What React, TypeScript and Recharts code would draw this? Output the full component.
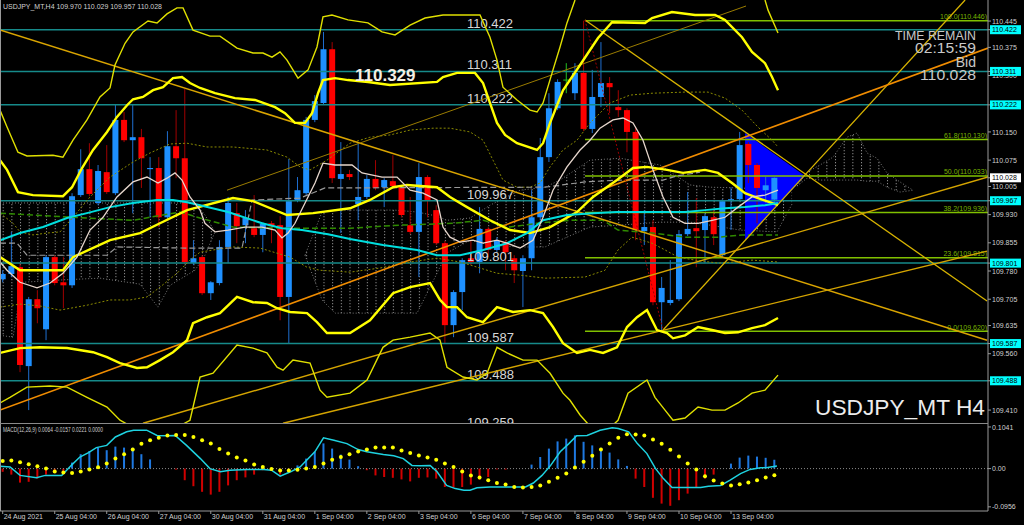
import React from "react";
import { ComposedChart, Bar, Line, Area, XAxis, YAxis, ReferenceLine } from "recharts";

// ---------- candle data (USDJPY H4) ----------
const opens = [109.758,109.772,109.790,109.527,109.705,109.625,109.817,109.750,109.742,109.982,110.051,109.961,110.043,109.987,110.182,110.128,110.136,110.051,110.054,109.923,110.112,110.080,109.801,109.817,109.721,109.748,109.844,109.934,109.902,109.894,109.876,109.907,109.902,109.711,109.969,109.987,110.182,110.227,110.370,110.025,110.038,109.958,109.977,110.025,110.003,110.019,110.003,109.902,109.884,110.030,109.942,109.854,109.636,109.724,109.814,109.804,109.892,109.836,109.857,109.814,109.780,109.814,109.923,110.083,110.213,110.288,110.253,110.307,110.158,110.243,110.280,110.216,110.208,110.150,109.886,109.897,109.697,109.695,109.705,109.878,109.894,109.889,109.923,109.822,109.966,109.971,110.118,110.062,109.995,109.970];
const highs = [109.782,109.884,109.801,109.711,109.729,109.822,109.822,109.817,109.987,110.104,110.120,110.062,110.115,110.224,110.203,110.224,110.158,110.083,110.083,110.152,110.208,110.264,109.862,109.822,109.753,109.862,109.977,109.961,109.942,109.982,109.910,109.913,109.926,110.078,110.030,110.190,110.248,110.416,110.389,110.123,110.049,110.120,110.035,110.075,110.027,110.088,110.008,109.977,110.067,110.035,109.955,109.860,109.729,109.814,109.862,109.950,109.897,109.870,109.862,109.822,109.822,109.995,110.134,110.253,110.290,110.333,110.333,110.446,110.315,110.389,110.296,110.261,110.213,110.163,109.942,109.915,109.764,109.809,109.889,109.990,109.974,109.934,109.942,109.971,110.003,110.150,110.123,110.067,110.030,110.029];
const lows = [109.750,109.764,109.511,109.410,109.641,109.596,109.742,109.681,109.735,109.977,109.979,109.955,109.985,109.982,110.123,109.934,110.001,109.923,109.897,109.918,110.027,109.798,109.796,109.716,109.703,109.742,109.801,109.854,109.854,109.870,109.830,109.854,109.649,109.588,109.963,109.982,110.176,110.222,110.014,109.881,110.022,109.915,109.971,109.995,109.950,110.001,109.923,109.878,109.764,109.923,109.849,109.588,109.604,109.676,109.796,109.774,109.817,109.830,109.782,109.748,109.684,109.782,109.915,110.070,110.208,110.253,110.235,110.152,110.147,110.216,110.200,110.190,110.096,109.862,109.849,109.689,109.620,109.689,109.700,109.873,109.790,109.801,109.849,109.817,109.889,109.966,110.014,109.907,109.961,109.957];
const closes = [109.772,109.793,109.530,109.705,109.681,109.817,109.748,109.742,109.979,110.051,109.985,110.046,109.990,110.182,110.128,110.136,110.080,110.054,109.923,110.112,110.080,109.804,109.814,109.721,109.750,109.844,109.961,109.899,109.921,109.876,109.905,109.899,109.711,109.966,109.995,110.182,110.232,110.370,110.027,110.038,110.030,109.977,110.025,110.001,110.022,110.006,109.929,109.884,110.030,109.969,109.854,109.636,109.724,109.809,109.804,109.892,109.836,109.860,109.830,109.782,109.814,109.923,110.083,110.213,110.283,110.288,110.307,110.158,110.243,110.280,110.269,110.208,110.150,109.889,109.897,109.697,109.735,109.703,109.878,109.892,109.886,109.926,109.878,109.966,109.971,110.115,110.062,110.001,110.008,110.028];

// ---------- axis labels ----------
const dateTickIdx = [0,6,12,18,24,30,36,42,48,54,60,66,72,78,84];
const dateLabels = ["24 Aug 2021","25 Aug 04:00","26 Aug 04:00","27 Aug 04:00","30 Aug 04:00","31 Aug 04:00","1 Sep 04:00","2 Sep 04:00","3 Sep 04:00","6 Sep 04:00","7 Sep 04:00","8 Sep 04:00","9 Sep 04:00","10 Sep 04:00","13 Sep 04:00"];
const priceTicks = [110.445,110.375,110.300,110.150,110.075,110.005,109.930,109.855,109.780,109.705,109.635,109.560,109.410];
const hLevels = [110.422,110.311,110.222,109.967,109.801,109.587,109.488];
const bidPrice = 110.028;
const macdTicks = [0.1041, 0, -0.0956];

// ---------- fibonacci ----------
const fibStartIdx = 67.16;
const fibLevels = [110.446,110.130,110.033,109.936,109.815,109.620];
const fibLabels = ["100.0(110.446)","61.8(110.130)","50.0(110.033)","38.2(109.936)","23.6(109.815)","0.0(109.620)"];

// ---------- indicator lines [index, price] ----------
const bbUpper: [number, number][] = [[-0.31,110.075],[0.5,110.049],[1.76,109.990],[3.49,109.982],[6.95,109.979],[8.0,110.003],[9.15,110.054],[10.42,110.102],[12.03,110.150],[13.18,110.190],[14.34,110.221],[15.03,110.237],[16.18,110.243],[17.34,110.261],[18.49,110.269],[19.64,110.293],[20.68,110.296],[21.6,110.280],[22.76,110.267],[24.49,110.253],[26.79,110.240],[29.1,110.235],[31.41,110.216],[32.56,110.200],[33.71,110.174],[34.87,110.174],[35.68,110.200],[36.37,110.253],[36.94,110.288],[38.33,110.293],[39.83,110.288],[42.13,110.283],[44.67,110.275],[50.09,110.283],[50.78,110.296],[52.4,110.307],[54.47,110.307],[55.4,110.280],[57.01,110.174],[57.94,110.142],[59.32,110.120],[61.63,110.102],[62.32,110.120],[63.13,110.174],[64.62,110.261],[66.59,110.328],[67.74,110.368],[68.66,110.400],[70.28,110.442],[74.08,110.440],[74.89,110.453],[77.19,110.469],[79.85,110.461],[82.16,110.461],[83.31,110.448],[85.27,110.402],[86.42,110.363],[87.92,110.333],[88.73,110.296],[89.42,110.261]];
const bbMiddle: [number, number][] = [[-0.31,109.817],[2.0,109.782],[6.95,109.782],[8.11,109.817],[12.38,109.862],[15.84,109.881],[18.14,109.907],[21.26,109.942],[26.56,109.974],[28.87,109.966],[32.79,109.929],[35.8,109.934],[40.06,109.947],[42.36,109.969],[45.02,110.003],[46.63,110.009],[50.09,110.003],[51.59,109.977],[53.55,109.950],[56.2,109.915],[58.51,109.889],[60.82,109.881],[63.13,109.897],[66.24,109.937],[68.08,109.977],[70.85,110.022],[72.7,110.054],[74.31,110.057],[76.62,110.049],[78.47,110.041],[81.0,110.049],[82.5,110.041],[84.12,110.014],[85.62,109.987],[87.11,109.974],[89.42,109.955]];
const bbLower: [number, number][] = [[-0.31,109.562],[2.0,109.575],[4.3,109.577],[7.42,109.575],[10.42,109.564],[12.03,109.551],[13.53,109.535],[15.49,109.522],[16.64,109.524],[18.14,109.543],[19.64,109.564],[21.26,109.596],[21.95,109.641],[23.56,109.657],[25.06,109.668],[27.02,109.711],[28.87,109.697],[30.48,109.695],[31.64,109.681],[33.14,109.671],[35.1,109.668],[36.25,109.644],[37.4,109.615],[40.06,109.615],[42.36,109.649],[45.02,109.721],[46.99,109.737],[49.29,109.748],[50.44,109.703],[51.24,109.684],[52.4,109.684],[53.55,109.657],[55.4,109.644],[57.01,109.684],[58.86,109.671],[60.82,109.676],[62.32,109.668],[63.47,109.631],[64.62,109.588],[66.24,109.562],[67.74,109.570],[69.24,109.562],[70.85,109.577],[72.01,109.631],[73.16,109.657],[74.31,109.676],[75.46,109.623],[76.62,109.615],[77.31,109.601],[78.7,109.609],[80.2,109.631],[81.81,109.623],[83.31,109.615],[84.81,109.617],[86.42,109.628],[87.92,109.636],[89.42,109.655]];
const outerUpper: [number, number | null][] = [[-0.31,110.208],[0.5,110.163],[1.76,110.096],[2.8,110.086],[5.8,110.088],[6.95,110.083],[8.11,110.128],[9.72,110.182],[11.22,110.243],[12.38,110.267],[12.95,110.328],[14.11,110.386],[15.03,110.416],[16.76,110.445],[17.8,110.440],[18.95,110.464],[20.1,110.480],[20.8,110.480],[21.95,110.421],[23.91,110.405],[25.06,110.405],[27.02,110.373],[28.87,110.360],[30.02,110.360],[31.06,110.349],[31.98,110.363],[32.79,110.341],[34.06,110.293],[35.22,110.315],[36.25,110.376],[36.94,110.456],[37.98,110.461],[39.83,110.448],[42.13,110.440],[43.75,110.416],[45.25,110.408],[46.99,110.434],[48.71,110.453],[50.78,110.461],[55.05,110.461],[56.2,110.402],[57.01,110.341],[57.7,110.269],[59.32,110.235],[60.82,110.208],[61.63,110.203],[62.32,110.227],[63.47,110.315],[64.28,110.376],[65.08,110.440],[66.01,110.501],[77,null],[87.92,110.501],[88.27,110.474],[89.42,110.413]];
const outerLower: [number, number | null][] = [[-0.31,109.429],[0.84,109.444],[2.8,109.471],[5.46,109.474],[7.42,109.471],[9.72,109.444],[12.03,109.418],[13.53,109.383],[14.34,109.373],[17,null],[20.8,109.373],[21.6,109.383],[22.76,109.498],[24.26,109.508],[27.02,109.583],[28.87,109.575],[30.48,109.562],[31.64,109.524],[32.33,109.516],[33.48,109.543],[35.45,109.535],[36.6,109.463],[37.4,109.444],[40.06,109.455],[42.02,109.490],[43.86,109.577],[45.02,109.596],[46.99,109.604],[49.29,109.615],[50.44,109.596],[51.24,109.524],[53.09,109.498],[54.7,109.490],[55.86,109.508],[57.01,109.577],[58.17,109.562],[60.01,109.543],[61.63,109.543],[63.13,109.508],[64.62,109.455],[65.43,109.436],[66.59,109.397],[67.51,109.373],[69,null],[70.51,109.373],[70.97,109.383],[72.12,109.455],[74.31,109.490],[75.23,109.444],[76.39,109.410],[77.31,109.383],[78.7,109.389],[80.2,109.418],[81.81,109.410],[83.31,109.410],[84.81,109.429],[86.42,109.455],[87.92,109.463],[89.42,109.503]];
const maFast: [number, number][] = [[-0.31,109.804],[0.5,109.782],[2.0,109.750],[3.96,109.735],[5.46,109.748],[6.95,109.774],[8.57,109.817],[10.07,109.889],[11.57,109.923],[13.18,109.977],[15.03,110.017],[16.64,110.030],[17.91,110.014],[18.95,110.027],[19.87,110.041],[20.68,110.022],[21.6,109.977],[22.76,109.942],[23.33,109.907],[24.49,109.884],[25.99,109.889],[27.95,109.897],[29.91,109.897],[31.41,109.889],[32.21,109.868],[32.91,109.881],[33.71,109.907],[34.87,109.961],[36.02,110.014],[36.94,110.067],[38.33,110.062],[40.29,110.062],[41.44,110.041],[43.75,110.030],[45.48,110.030],[46.99,109.995],[48.48,109.987],[50.09,109.969],[50.78,109.897],[51.59,109.870],[52.75,109.857],[54.24,109.862],[55.4,109.854],[57.01,109.862],[58.17,109.854],[59.66,109.841],[61.16,109.862],[62.32,109.923],[63.47,109.995],[65.08,110.057],[66.59,110.102],[67.74,110.128],[68.89,110.160],[70.39,110.182],[71.55,110.187],[72.7,110.174],[73.85,110.128],[75.0,110.049],[76.16,109.977],[77.31,109.923],[78.7,109.907],[80.2,109.907],[81.81,109.915],[83.31,109.923],[84.81,109.950],[86.42,109.977],[87.92,109.982],[89.42,109.995]];
const maSlow: [number, number][] = [[-0.31,109.862],[2.0,109.881],[4.65,109.897],[7.42,109.921],[9.72,109.934],[12.38,109.950],[15.03,109.961],[17.8,109.969],[19.64,109.969],[21.26,109.963],[22.76,109.955],[25.99,109.937],[29.91,109.907],[32.21,109.894],[34.52,109.889],[37.52,109.878],[40.06,109.865],[43.86,109.849],[47.79,109.836],[50.09,109.822],[52.75,109.822],[55.4,109.836],[58.17,109.854],[60.47,109.881],[62.32,109.915],[65.08,109.929],[68.08,109.934],[70.85,109.937],[74.89,109.937],[78.7,109.937],[81.0,109.942],[83.31,109.947],[85.62,109.950],[87.92,109.955],[89.42,109.961]];
const envUpper: [number, number][] = [[-0.31,109.934],[1.19,109.907],[2.0,109.884],[3.49,109.876],[5.1,109.881],[6.61,109.884],[8.11,109.923],[10.07,109.977],[12.38,110.030],[15.03,110.070],[16.99,110.094],[19.3,110.118],[21.26,110.120],[23.56,110.110],[26.56,110.110],[30.48,110.102],[32.79,110.083],[34.29,110.057],[35.45,110.049],[37.4,110.075],[40.06,110.120],[42.36,110.136],[44.67,110.142],[46.99,110.155],[49.63,110.160],[51.59,110.160],[53.9,110.150],[55.4,110.128],[56.55,110.075],[57.7,110.022],[59.32,110.003],[60.82,110.003],[61.97,110.014],[63.13,110.057],[64.62,110.102],[66.24,110.128],[67.74,110.174],[70.05,110.227],[72.35,110.248],[74.89,110.253],[78.7,110.256],[81.35,110.256],[83.31,110.240],[85.27,110.208],[87.11,110.163],[88.73,110.128],[89.42,110.110]];
const envLower: [number, number][] = [[-0.31,109.684],[2.0,109.692],[4.3,109.687],[6.61,109.676],[9.72,109.689],[12.38,109.703],[14.68,109.703],[16.64,109.711],[18.14,109.737],[20.1,109.774],[21.6,109.809],[22.76,109.830],[24.26,109.836],[26.56,109.844],[29.68,109.841],[33.14,109.817],[35.1,109.790],[36.6,109.782],[40.06,109.777],[43.52,109.788],[46.99,109.804],[50.09,109.814],[52.75,109.804],[55.05,109.788],[57.01,109.774],[59.66,109.769],[62.55,109.761],[67.16,109.764],[69.47,109.782],[70.97,109.836],[72.58,109.870],[74.89,109.854],[76.39,109.836],[77.89,109.817],[79.85,109.809],[82.5,109.801],[84.46,109.804],[86.42,109.809],[89.42,109.804]];
const kijun: [number, number][] = [[-0.31,109.934],[9.72,109.921],[15.03,109.915],[20.45,109.937],[22.76,109.921],[26.56,109.897],[31.98,109.894],[40.06,109.894],[45.82,109.902],[51.94,109.907],[55.4,109.915],[58.51,109.897],[61.63,109.907],[65.43,109.915],[69.24,109.915],[70.97,109.889],[74.89,109.881],[78.7,109.870],[82.5,109.870],[85.27,109.876],[89.42,109.876]];
const tenkan: [number, number][] = [[-0.31,109.854],[1.65,109.854],[2.8,109.822],[12.03,109.822],[13.18,109.844],[21.26,109.841],[27.6,109.841],[28.76,109.969],[34.29,109.974],[37.17,110.001],[62.55,110.003],[67.16,110.017],[71.2,110.022],[76.16,110.022],[77.77,110.033],[80.43,110.043]];

// ---------- ichimoku cloud [index, lower, upper] ----------
const cloudA: [number, number, number][] = [[-0.31,109.609,109.961],[1.19,109.604,109.961],[2.23,109.750,109.961],[6.61,109.756,109.961],[11.22,109.761,109.961],[15.84,109.745,109.961],[17.91,109.684,109.961],[19.3,109.742,109.961],[22.18,109.782,109.961],[23.33,109.822,109.929],[24.49,109.884,109.884]];
const cloudB: [number, number, number][] = [[34.87,109.822,109.822],[36.83,109.703,109.937],[38.33,109.668,109.942],[45.25,109.668,109.942],[47.79,109.668,109.937],[50.09,109.774,109.926],[51.24,109.828,109.915],[53.9,109.862,109.921],[56.2,109.849,109.955],[59.66,109.844,109.995],[62.55,109.844,110.003],[64.28,109.862,110.022],[67.74,109.897,110.075],[71.2,109.902,110.080],[75.81,109.910,110.062],[79.27,109.910,110.009],[81.58,109.902,110.003],[85.04,109.889,110.001],[89.3,109.884,109.995],[91.04,109.958,109.990]];
const cloudC: [number, number, number][] = [[91.62,110.006,110.006],[92.77,110.027,110.043],[94.27,110.022,110.062],[95.77,110.022,110.083],[97.38,110.022,110.136],[98.53,110.022,110.147],[99.69,110.019,110.094],[100.84,110.019,110.080],[101.99,110.003,110.041],[103.49,109.990,110.017],[104.99,109.995,109.995]];

// ---------- drawn objects ----------
const triangleZone: [number, number, number][] = [[85.62,109.862,110.147],[92.54,110.033,110.033]];
const trendMain: [number, number][] = [[-0.31,110.421],[113.53,109.596]];
const trendFibDown: [number, number][] = [[67.16,110.448],[113.53,109.700]];
const trendFromLow: [number, number][] = [[76.16,109.623],[111.0,110.501]];
const trendOrange: [number, number][] = [[-0.31,109.410],[113.64,110.373]];
const trendThin: [number, number][] = [[25.87,109.995],[85.73,110.485]];
const supportP: [number, number][] = [[16.18,109.375],[113.64,110.030]];
const supportQ: [number, number][] = [[32.33,109.375],[113.53,109.833]];
const fibDiagonal: [number, number][] = [[67.16,110.448],[76.16,109.623]];

// ---------- MACD ----------
const macdHist = [-0.008,-0.015,-0.035,-0.033,-0.025,-0.015,-0.008,-0.010,0.015,0.036,0.044,0.0525,0.046,0.055,0.0525,0.052,0.036,0.023,0.001,0.001,-0.0025,-0.029,-0.044,-0.058,-0.065,-0.058,-0.042,-0.029,-0.022,-0.015,-0.004,-0.005,-0.015,-0.008,0.008,0.025,0.042,0.063,0.050,0.035,0.0225,0.006,-0.004,-0.017,-0.021,-0.023,-0.027,-0.032,-0.023,-0.022,-0.025,-0.046,-0.0475,-0.046,-0.040,-0.0275,-0.021,-0.002,-0.0025,0.001,0.001,0.010,0.029,0.050,0.068,0.075,0.083,0.067,0.058,0.052,0.040,0.023,0.0067,-0.025,-0.046,-0.073,-0.0875,-0.093,-0.079,-0.0625,-0.046,-0.025,-0.015,0.001,0.0125,0.0275,0.0325,0.030,0.027,0.0221];
const macdSignal = [0.019,0.020,0.016,0.011,0.006,0,-0.007,-0.010,-0.011,-0.0075,-0.0025,0.0033,0.0125,0.025,0.036,0.048,0.062,0.071,0.077,0.0825,0.084,0.084,0.079,0.071,0.063,0.049,0.0375,0.0275,0.020,0.010,0.004,-0.001,-0.005,-0.005,-0.003,0,0.004,0.0125,0.022,0.029,0.036,0.043,0.048,0.0525,0.053,0.0525,0.045,0.039,0.033,0.0275,0.022,0.013,0.004,-0.007,-0.017,-0.022,-0.029,-0.036,-0.040,-0.046,-0.047,-0.046,-0.042,-0.033,-0.023,-0.0125,0.0025,0.017,0.032,0.048,0.0625,0.077,0.086,0.085,0.083,0.073,0.062,0.047,0.030,0.0125,-0.0025,-0.019,-0.030,-0.0375,-0.042,-0.039,-0.035,-0.029,-0.0225,-0.0167];
const macdMain: [number, number][] = [[-0.3,0.006],[0.85,0.004],[2,-0.017],[3.9,-0.023],[4.9,-0.017],[6.8,-0.017],[8,0.010],[8.9,0.029],[9.9,0.04],[10.8,0.0525],[12,0.058],[13,0.079],[14.3,0.092],[15.1,0.096],[16.6,0.096],[17.8,0.083],[18.9,0.082],[19.9,0.083],[21.2,0.058],[22.8,0.025],[23.9,0],[25.1,-0.008],[26.2,-0.004],[28.2,-0.002],[30.1,-0.002],[31,-0.004],[32,-0.019],[33.2,-0.008],[34.3,0.004],[36,0.042],[37,0.077],[38.2,0.071],[39.7,0.0625],[41,0.0475],[42,0.042],[43.9,0.035],[45.1,0.032],[46.2,0.025],[47.2,0.008],[48.2,0.007],[49.3,0.008],[50.1,-0.008],[51.2,-0.042],[52.2,-0.05],[53.2,-0.054],[53.9,-0.054],[54.7,-0.048],[56.2,-0.046],[58.2,-0.046],[60.3,-0.046],[61.2,-0.036],[62.2,-0.017],[63.2,0.008],[64.3,0.042],[65.3,0.0625],[66.2,0.082],[67.4,0.083],[68.9,0.096],[70.3,0.102],[71,0.1],[72.2,0.092],[73.2,0.0625],[74.3,0.0375],[75.3,0],[76.2,-0.025],[77.2,-0.0475],[78.3,-0.0475],[80.5,-0.0475],[81.4,-0.044],[82.8,-0.042],[83.9,-0.029],[85.1,-0.0125],[86.2,-0.002],[87.4,0.002],[88.2,0.0025],[89.3,0.0067]];

// ---------- helpers ----------
const X_DOMAIN: [number, number] = [-0.311, 113.64];
const P_DOMAIN: [number, number] = [109.373, 110.501];
const M_DOMAIN: [number, number] = [-0.106, 0.1115];
const FONT = "'Liberation Sans', Arial, sans-serif";
const BODY_W = 6;
const HIST_W = 2;

const toPts = (arr: [number, number | null][]) => arr.map(([i, p]) => ({ i, p }));
const toRange = (arr: [number, number, number][]) => arr.map(([i, lo, hi]) => ({ i, r: [lo, hi] }));

const candleRows = opens.map((o, k) => ({ i: k, o, h: highs[k], l: lows[k], c: closes[k], hl: [lows[k], highs[k]] }));
const macdRows = macdHist.map((h, k) => ({ i: k, h, s: macdSignal[k] }));

const Candle = (props: any) => {
  const { x, y, width, height, payload } = props;
  if (!payload || x == null || y == null || isNaN(y)) return null;
  const { o, h, l, c } = payload;
  const y1 = Math.min(y, y + height);
  const y2 = Math.max(y, y + height);
  const span = h - l || 1e-9;
  const toY = (v: number) => y1 + ((h - v) / span) * (y2 - y1);
  const cx = x + (width || 0) / 2;
  const doji = o === c;
  const bull = c > o;
  const body = doji ? "#22c022" : bull ? "#1e90ff" : "#ff0000";
  const wick = doji ? "#22c022" : bull ? "#1f6fd0" : "#a00000";
  const top = toY(Math.max(o, c));
  const bot = toY(Math.min(o, c));
  return (
    <g>
      <line x1={cx} x2={cx} y1={y1} y2={y2} stroke={wick} strokeWidth={1} />
      {doji ? (
        <line x1={cx - BODY_W / 2} x2={cx + BODY_W / 2} y1={top} y2={top} stroke={body} strokeWidth={1} />
      ) : (
        <rect x={cx - BODY_W / 2} y={top} width={BODY_W} height={Math.max(1, bot - top)} fill={body} />
      )}
    </g>
  );
};

const HistBar = (props: any) => {
  const { x, y, width, height, payload } = props;
  if (!payload || x == null || y == null || isNaN(y)) return null;
  const cx = x + (width || 0) / 2;
  const y1 = Math.min(y, y + height);
  const hgt = Math.abs(height);
  if (hgt < 0.5) return null;
  return <rect x={cx - HIST_W / 2} y={y1} width={HIST_W} height={hgt} fill={payload.h >= 0 ? "#1e78e0" : "#d00000"} />;
};

const PriceTick = (props: any) => {
  const { x, y, payload } = props;
  const v = payload?.value;
  if (v == null) return null;
  const isBox = hLevels.includes(v);
  const isBid = v === bidPrice;
  if (isBox || isBid) {
    return (
      <g>
        <rect x={x - 2} y={y - 4.5} width={31} height={9} fill={isBid ? "#ffffff" : "#00ffff"} />
        <text x={x} y={y + 2.6} fontSize={7} fontFamily={FONT} fill="#000">{v.toFixed(3)}</text>
      </g>
    );
  }
  return <text x={x} y={y + 2.6} fontSize={7} fontFamily={FONT} fill="#d0d0d0">{v.toFixed(3)}</text>;
};

const MacdTick = (props: any) => {
  const { x, y, payload } = props;
  const v = payload?.value;
  if (v == null) return null;
  const label = v === 0 ? "0.00" : v.toFixed(4);
  return <text x={x} y={y + 2.6} fontSize={7} fontFamily={FONT} fill="#d0d0d0">{label}</text>;
};

const DateTick = (props: any) => {
  const { x, y, payload } = props;
  const k = dateTickIdx.indexOf(payload?.value);
  if (k < 0) return null;
  return <text x={x + 1} y={y + 5} fontSize={7} fontFamily={FONT} fill="#d0d0d0">{dateLabels[k]}</text>;
};

const LevelLabel = (props: any) => {
  const { viewBox, text } = props;
  if (!viewBox) return null;
  return (
    <text x={viewBox.x + 467} y={viewBox.y - 2} fontSize={13} fontFamily={FONT} fill="#d8d8d8">{text}</text>
  );
};

const FibLabel = (props: any) => {
  const { viewBox, text } = props;
  if (!viewBox) return null;
  return (
    <text x={viewBox.x + viewBox.width - 1} y={viewBox.y - 1.5} fontSize={7} fontFamily={FONT} fill="#78b400" textAnchor="end">{text}</text>
  );
};

const lineProps = { dot: false, activeDot: false, isAnimationActive: false, dataKey: "p", legendType: "none" as const };

export default function App() {
  return (
    <div style={{ position: "absolute", left: 0, top: 0, width: 1024, height: 525, background: "#000", overflow: "hidden" }}>
      <div style={{ position: "absolute", left: 0, top: 0 }}>
        <ComposedChart width={1024} height={424} data={candleRows} margin={{ top: 0, right: 0, left: 0, bottom: 0 }}>
          <defs>
            <pattern id="kumoHatch" patternUnits="userSpaceOnUse" x={2.7} y={0} width={8.67} height={3}>
              <line x1={0.5} x2={0.5} y1={0} y2={1.2} stroke="#8c8c8c" strokeWidth={1} />
            </pattern>
          </defs>
          <XAxis type="number" dataKey="i" domain={X_DOMAIN} hide allowDataOverflow />
          <YAxis
            orientation="right"
            width={36}
            domain={P_DOMAIN}
            allowDataOverflow
            ticks={[...priceTicks, ...hLevels, bidPrice]}
            interval={0}
            tick={<PriceTick />}
            tickSize={3}
            tickMargin={1}
            axisLine={{ stroke: "#9a9a9a" }}
            tickLine={{ stroke: "#9a9a9a" }}
          />

          <Area data={toRange(cloudA)} dataKey="r" type="linear" fill="url(#kumoHatch)" fillOpacity={1} stroke="#7a7a7a" strokeDasharray="1 2" strokeWidth={1} isAnimationActive={false} dot={false} activeDot={false} />
          <Area data={toRange(cloudB)} dataKey="r" type="linear" fill="url(#kumoHatch)" fillOpacity={1} stroke="#7a7a7a" strokeDasharray="1 2" strokeWidth={1} isAnimationActive={false} dot={false} activeDot={false} />
          <Area data={toRange(cloudC)} dataKey="r" type="linear" fill="url(#kumoHatch)" fillOpacity={1} stroke="#7a7a7a" strokeDasharray="1 2" strokeWidth={1} isAnimationActive={false} dot={false} activeDot={false} />
          <Area data={toRange(triangleZone)} dataKey="r" type="linear" fill="#0000ff" fillOpacity={1} stroke="none" isAnimationActive={false} dot={false} activeDot={false} />

          {hLevels.map((v) => (
            <ReferenceLine key={"h" + v} y={v} stroke="#168a8a" strokeWidth={1.5} label={<LevelLabel text={v.toFixed(3)} />} />
          ))}
          {fibLevels.map((v, k) => (
            <ReferenceLine key={"f" + v} segment={[{ x: fibStartIdx, y: v }, { x: X_DOMAIN[1], y: v }]} stroke="#80c000" strokeWidth={1.5} label={<FibLabel text={fibLabels[k]} />} />
          ))}

          <Line {...lineProps} data={toPts(envUpper)} stroke="#8a8a00" strokeWidth={1} strokeDasharray="2 2" />
          <Line {...lineProps} data={toPts(envLower)} stroke="#8a8a00" strokeWidth={1} strokeDasharray="2 2" />
          <Line {...lineProps} data={toPts(kijun)} stroke="#2f8a00" strokeWidth={1.5} strokeDasharray="6 3" />
          <Line {...lineProps} data={toPts(tenkan)} stroke="#9a9a9a" strokeWidth={1.2} strokeDasharray="6 3" />

          <Line {...lineProps} data={toPts(trendMain)} stroke="#d9a400" strokeWidth={1.5} />
          <Line {...lineProps} data={toPts(trendFibDown)} stroke="#d8b400" strokeWidth={1.3} />
          <Line {...lineProps} data={toPts(trendFromLow)} stroke="#d8b400" strokeWidth={1.3} />
          <Line {...lineProps} data={toPts(trendOrange)} stroke="#f08c00" strokeWidth={1.6} />
          <Line {...lineProps} data={toPts(trendThin)} stroke="#9a7c00" strokeWidth={1} />
          <Line {...lineProps} data={toPts(supportP)} stroke="#d4a400" strokeWidth={1.4} />
          <Line {...lineProps} data={toPts(supportQ)} stroke="#d4a400" strokeWidth={1.4} />
          <Line {...lineProps} data={toPts(fibDiagonal)} stroke="#a00000" strokeWidth={1} strokeDasharray="2 2" />

          <Line {...lineProps} data={toPts(outerUpper)} stroke="#e0e000" strokeWidth={1.4} connectNulls={false} />
          <Line {...lineProps} data={toPts(outerLower)} stroke="#e0e000" strokeWidth={1.4} connectNulls={false} />
          <Line {...lineProps} data={toPts(bbUpper)} stroke="#ffff00" strokeWidth={2.4} />
          <Line {...lineProps} data={toPts(bbMiddle)} stroke="#ffff00" strokeWidth={2.4} />
          <Line {...lineProps} data={toPts(bbLower)} stroke="#ffff00" strokeWidth={2.4} />
          <Line {...lineProps} data={toPts(maSlow)} stroke="#00dede" strokeWidth={2} />
          <Line {...lineProps} data={toPts(maFast)} stroke="#e6d6cc" strokeWidth={1.3} />

          <Bar dataKey="hl" barSize={6} shape={<Candle />} isAnimationActive={false} legendType="none" />
        </ComposedChart>
      </div>

      <div style={{ position: "absolute", left: 0, top: 424 }}>
        <ComposedChart width={1024} height={101} data={macdRows} margin={{ top: 0, right: 0, left: 0, bottom: 0 }}>
          <XAxis
            type="number"
            dataKey="i"
            domain={X_DOMAIN}
            allowDataOverflow
            ticks={dateTickIdx}
            interval={0}
            tick={<DateTick />}
            height={14}
            tickSize={3}
            tickMargin={0}
            axisLine={{ stroke: "#9a9a9a" }}
            tickLine={{ stroke: "#9a9a9a" }}
          />
          <YAxis
            orientation="right"
            width={36}
            domain={M_DOMAIN}
            allowDataOverflow
            ticks={macdTicks}
            interval={0}
            tick={<MacdTick />}
            tickSize={3}
            tickMargin={1}
            axisLine={{ stroke: "#9a9a9a" }}
            tickLine={{ stroke: "#9a9a9a" }}
          />
          <ReferenceLine y={0} stroke="#8a8a8a" strokeDasharray="1 2" />
          <Bar dataKey="h" barSize={2} shape={<HistBar />} isAnimationActive={false} legendType="none" />
          <Line data={macdMain.map(([i, m]) => ({ i, m }))} dataKey="m" stroke="#1ed2e0" strokeWidth={1.5} dot={false} activeDot={false} isAnimationActive={false} legendType="none" />
          <Line dataKey="s" stroke="none" dot={{ r: 2, fill: "#ffff00", stroke: "none" }} activeDot={false} isAnimationActive={false} legendType="none" />
        </ComposedChart>
      </div>

      {/* panel borders */}
      <div style={{ position: "absolute", left: 0, top: 0, width: 1, height: 511, background: "#9a9a9a" }} />
      <div style={{ position: "absolute", left: 0, top: 423, width: 988, height: 1, background: "#8a8a8a" }} />

      {/* text overlay */}
      <svg width={1024} height={525} style={{ position: "absolute", left: 0, top: 0, pointerEvents: "none" }}>
        <defs>
          <clipPath id="mainClip"><rect x={0} y={0} width={988} height={423} /></clipPath>
        </defs>
        <text x={3} y={9} fontSize={7} fontFamily={FONT} fill="#d0d0d0" textLength={159} lengthAdjust="spacingAndGlyphs">USDJPY_MT,H4  109.970 110.029 109.957 110.028</text>
        <text x={3} y={432} fontSize={6.5} fontFamily={FONT} fill="#d0d0d0" textLength={100} lengthAdjust="spacingAndGlyphs">MACD(12,26,9) 0.0064 -0.0157 0.0221 0.0000</text>
        <text x={976} y={39.5} fontSize={13.5} fontFamily={FONT} fill="#c8c8c8" textAnchor="end" textLength={81} lengthAdjust="spacingAndGlyphs">TIME REMAIN</text>
        <text x={976} y={53} fontSize={14} fontFamily={FONT} fill="#c8c8c8" textAnchor="end" textLength={61} lengthAdjust="spacingAndGlyphs">02:15:59</text>
        <text x={976} y={66.5} fontSize={14} fontFamily={FONT} fill="#c8c8c8" textAnchor="end">Bid</text>
        <text x={976} y={80} fontSize={14.5} fontFamily={FONT} fill="#c8c8c8" textAnchor="end" textLength={56} lengthAdjust="spacingAndGlyphs">110.028</text>
        <text x={355} y={81} fontSize={17} fontWeight="bold" fontFamily={FONT} fill="#f4efe4">110.329</text>
        <text x={815} y={415} fontSize={22} fontFamily={FONT} fill="#ececec" textLength={170} lengthAdjust="spacingAndGlyphs">USDJPY_MT H4</text>
        <g clipPath="url(#mainClip)">
          <text x={467} y={427} fontSize={13} fontFamily={FONT} fill="#d8d8d8">109.259</text>
        </g>
      </svg>
    </div>
  );
}
